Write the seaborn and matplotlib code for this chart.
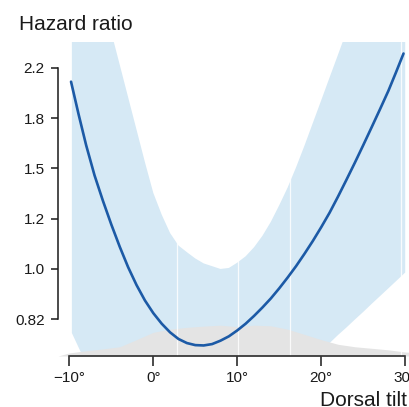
import numpy as np
import pandas as pd
import matplotlib
matplotlib.use('Agg')
import matplotlib.pyplot as plt
import matplotlib.ticker as mticker
import matplotlib.transforms as mtransforms
import seaborn as sns

sns.set_theme(style="white")
plt.rcParams['font.family'] = ['Liberation Sans', 'DejaVu Sans']

# spline estimate of the hazard ratio by dorsal tilt (degrees)
tilt = [-9.8, -8.9, -8, -7, -6, -5, -4, -3, -2, -1, 0, 1, 2, 3, 4, 5, 6, 7, 8, 9,
        10, 11, 12, 13, 14, 15, 16, 17, 18, 19, 20, 21, 22, 23, 24, 25, 26, 27, 28,
        28.9, 29.8]
hr = [2.083, 1.833, 1.624, 1.443, 1.306, 1.190, 1.091, 1.007, 0.939, 0.884, 0.841,
      0.807, 0.780, 0.760, 0.748, 0.742, 0.741, 0.745, 0.755, 0.768, 0.786, 0.807,
      0.832, 0.860, 0.891, 0.927, 0.967, 1.011, 1.061, 1.116, 1.178, 1.247, 1.328,
      1.418, 1.516, 1.624, 1.742, 1.870, 2.010, 2.160, 2.326]

# 95% confidence band
ci_x = [-9.7, -8.6, -8, -6, -5, -4, -3, -2, -1, 0, 1, 2, 3, 4, 5, 6, 7, 8, 9, 10,
        11, 12, 13, 14, 15, 16, 17, 18, 19, 20, 21, 22, 23, 24, 25, 26, 27, 28, 29, 30]
ci_low = [0.778, 0.72, 0.69, 0.64, 0.62, 0.61, 0.60, 0.59, 0.59, 0.58, 0.58, 0.58,
          0.58, 0.58, 0.58, 0.58, 0.58, 0.58, 0.59, 0.60, 0.60, 0.61, 0.62, 0.63,
          0.64, 0.65, 0.67, 0.69, 0.705, 0.726, 0.748, 0.772, 0.795, 0.820, 0.845,
          0.872, 0.899, 0.927, 0.956, 0.986]
ci_high = [4.65, 3.90, 3.55, 2.886, 2.527, 2.226, 1.960, 1.726, 1.520, 1.347, 1.237,
           1.151, 1.096, 1.068, 1.042, 1.022, 1.011, 1.000, 1.004, 1.025, 1.051,
           1.089, 1.139, 1.203, 1.284, 1.376, 1.489, 1.621, 1.772, 1.937, 2.119,
           2.316, 2.535, 2.773, 3.03, 3.32, 3.63, 3.97, 4.35, 4.76]

# spline knots
knots = [2.8, 10.05, 16.3, 29.5]

# distribution of dorsal tilt (relative density)
dens_x = [-11.35, -10, -8, -6, -4, -2, 0, 2, 4, 6, 8, 10, 12, 14, 16, 18, 20, 22,
          24, 26, 28, 30, 33]
dens = [0.0, 0.10, 0.17, 0.23, 0.30, 0.53, 0.77, 0.87, 0.93, 0.97, 1.0, 0.95, 1.0,
        0.98, 0.87, 0.70, 0.53, 0.38, 0.30, 0.25, 0.20, 0.13, 0.07]

yticks = [0.821, 1.0, 1.218, 1.483, 1.806, 2.199]
ytick_labels = ['0.82', '1.0', '1.2', '1.5', '1.8', '2.2']
xticks = [-10, 0, 10, 20, 30]
xtick_labels = ['\u221210\u00b0', '0\u00b0', '10\u00b0', '20\u00b0', '30\u00b0']

band_color = '#d6e9f5'
line_color = '#1c5aa6'
gray_color = '#e4e4e4'
ink = '#1a1a1a'

fig = plt.figure(figsize=(4.1, 4.07), dpi=100)
ax = fig.add_axes([0.1415, 0.1253, 0.907, 0.7727])

ax.set_yscale('log')
ax.set_xlim(-11.35, 32.94)
ax.set_ylim(0.711, 2.438)

ax.fill_between(ci_x, ci_low, ci_high, color=band_color, lw=0, zorder=1)

# density strip along the x axis, height in axes fraction
blend = mtransforms.blended_transform_factory(ax.transData, ax.transAxes)
ax.fill_between(dens_x, 0, np.array(dens) * 0.098, color=gray_color, lw=0,
                transform=blend, zorder=2)

for k in knots:
    ax.axvline(k, color='white', lw=0.9, alpha=0.85, zorder=3)

df = pd.DataFrame({'tilt': tilt, 'hr': hr})
sns.lineplot(data=df, x='tilt', y='hr', color=line_color, lw=1.9, ax=ax, zorder=4,
             sort=False, solid_joinstyle='round', solid_capstyle='round')

ax.yaxis.set_major_locator(mticker.FixedLocator(yticks))
ax.yaxis.set_minor_locator(mticker.NullLocator())
ax.set_yticklabels(ytick_labels)
ax.set_xticks(xticks)
ax.set_xticklabels(xtick_labels)

for side in ['top', 'right']:
    ax.spines[side].set_visible(False)
for side in ['left', 'bottom']:
    ax.spines[side].set_color(ink)
    ax.spines[side].set_linewidth(1.1)
    ax.spines[side].set_zorder(5)
ax.spines['left'].set_bounds(yticks[0], yticks[-1])
ax.spines['bottom'].set_bounds(-10, 30)

ax.tick_params(axis='y', which='major', left=True, length=4.7, width=1.1,
               color=ink, pad=5, labelsize=11, labelcolor=ink)
ax.tick_params(axis='x', which='major', bottom=True, length=7.5, width=1.1,
               color=ink, pad=3.5, labelsize=11, labelcolor=ink)
ax.set_xlabel('')
ax.set_ylabel('')

fig.text(19 / 410, 1 - 30 / 407, 'Hazard ratio', fontsize=15, color=ink,
         ha='left', va='baseline')
fig.text(320 / 410, 1 - 406 / 407, 'Dorsal tilt', fontsize=15, color=ink,
         ha='left', va='baseline')

fig.savefig('out.png', dpi=100)
